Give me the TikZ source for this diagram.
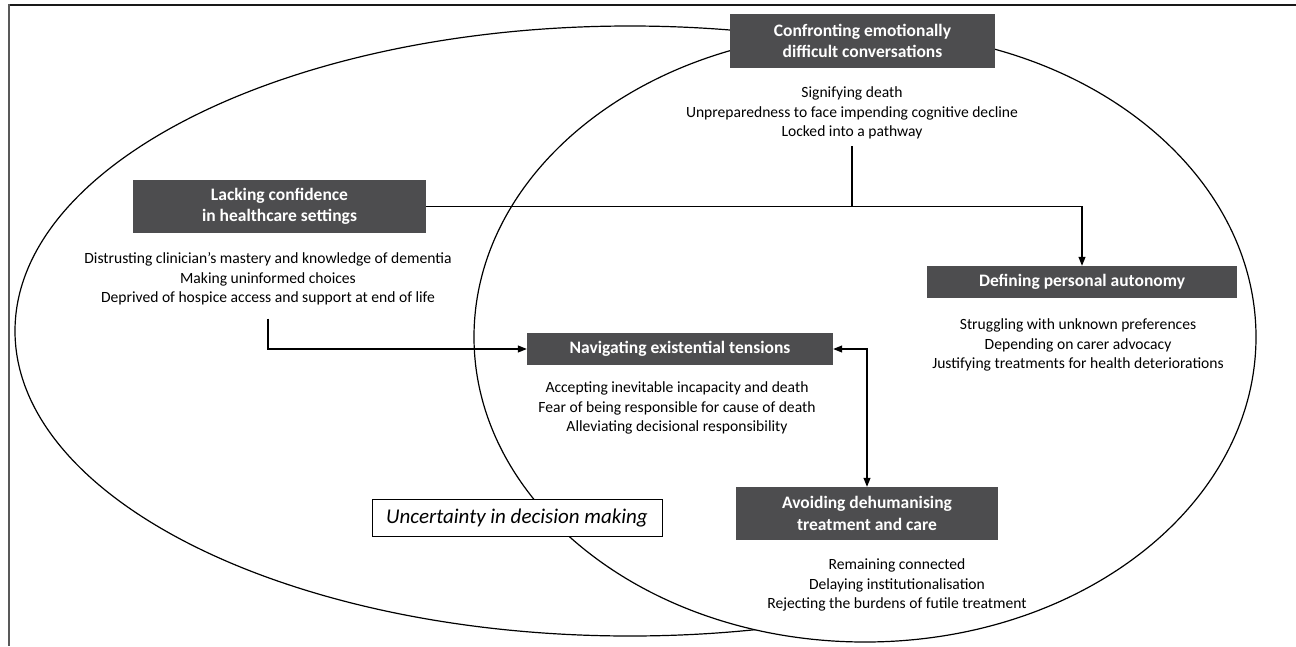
\documentclass[tikz,border=0pt]{standalone}
\usepackage{fontspec}
\setmainfont{Carlito}
\usetikzlibrary{arrows.meta}
\definecolor{boxgray}{HTML}{4D4D4F}
\begin{document}
\begin{tikzpicture}[x=1pt,y=-1pt,
  hdr/.style={fill=boxgray, text=white, font=\fontsize{17.5}{21.5}\selectfont\bfseries, align=center, inner sep=0pt},
  lst/.style={font=\fontsize{15.6}{19.6}\selectfont, align=center, inner sep=3pt},
  conn/.style={draw=black, line width=1.1pt},
  tipend/.style={-{Triangle[length=9pt,width=7pt]}},
  tipboth/.style={{Triangle[length=9pt,width=7pt]}-{Triangle[length=9pt,width=7pt]}},
  ell/.style={draw=black, line width=1.2pt}]
\useasboundingbox (0,0) rectangle (1296,646);
% frame
\draw[line width=2pt, black!90] (8,5) -- (1296,5);
\draw[line width=2.5pt, black!65] (9,4) -- (9,646);
% ellipses
\draw[ell] (630,331) ellipse [x radius=615, y radius=305];
\draw[ell, fill=white] (865,337) ellipse [x radius=391, y radius=305];
% header boxes
\node[hdr, minimum width=265pt, minimum height=54pt] (conf) at (862.5,41) {Confronting emotionally\\difficult conversations};
\node[hdr, minimum width=293pt, minimum height=53pt] (lack) at (279.5,206.5) {Lacking confidence\\in healthcare settings};
\node[hdr, minimum width=310pt, minimum height=32pt] (def) at (1082,282) {Defining personal autonomy};
\node[hdr, minimum width=306pt, minimum height=32pt] (nav) at (680,349) {Navigating existential tensions};
\node[hdr, minimum width=262pt, minimum height=53pt] (avoid) at (867,513.5) {Avoiding dehumanising\\treatment and care};
\node[draw=black, line width=0.8pt, fill=white, minimum width=290pt, minimum height=37pt, inner sep=0pt,
      font=\fontsize{21}{24}\selectfont\itshape] (unc) at (517,517.5) {Uncertainty in decision making};
% lists
\node[lst] (conflist) at (852,113) {Signifying death\\Unpreparedness to face impending cognitive decline\\Locked into a pathway};
\node[lst] (lacklist) at (268,279) {Distrusting clinician’s mastery and knowledge of dementia\\Making uninformed choices\\Deprived of hospice access and support at end of life};
\node[lst] (deflist) at (1078,345) {Struggling with unknown preferences\\Depending on carer advocacy\\Justifying treatments for health deteriorations};
\node[lst] (navlist) at (677,408) {Accepting inevitable incapacity and death\\Fear of being responsible for cause of death\\Alleviating decisional responsibility};
\node[lst] (avoidlist) at (897,585) {Remaining connected\\Delaying institutionalisation\\Rejecting the burdens of futile treatment};
% connectors
\coordinate (join) at (conflist.south |- lack.east);
\draw[conn, line width=0.8pt] (lack.east) -- (join);
\draw[conn, tipend, shorten <=4pt] (conflist.south) -- (join) -| (def.north);
\draw[conn, tipend, shorten <=10pt] (lacklist.south) |- (nav.west);
\draw[conn, tipboth] (nav.east) -| (avoid.north);
\end{tikzpicture}
\end{document}
